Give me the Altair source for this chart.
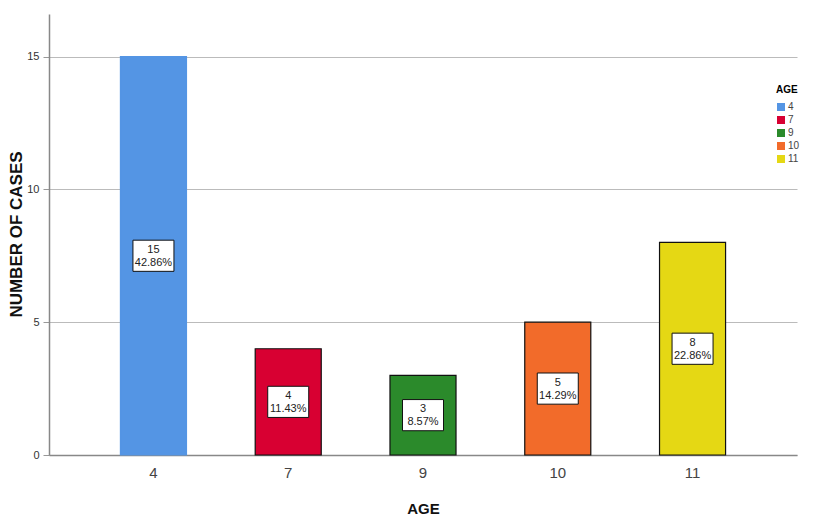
import altair as alt
import pandas as pd

ages = ["4", "7", "9", "10", "11"]
counts = [15, 4, 3, 5, 8]
percents = ["42.86%", "11.43%", "8.57%", "14.29%", "22.86%"]
colors = ["#5495E4", "#D80032", "#2B8A2B", "#F26B2A", "#E5D814"]
strokes = ["#5495E4", "#111111", "#111111", "#111111", "#111111"]

df = pd.DataFrame({
    "AGE": ages,
    "count": counts,
    "pct": percents,
    "stroke": strokes,
})
df["half"] = df["count"] / 2
df["label"] = df["count"].astype(str) + "\n" + df["pct"]

FONT = "Liberation Sans"

x = alt.X("AGE:N", sort=ages,
          scale=alt.Scale(paddingInner=0.51, paddingOuter=0.53),
          axis=alt.Axis(title="AGE", labelAngle=0, labelFontSize=15, labelColor="#444444",
                        labelFont=FONT, ticks=False, labelPadding=10,
                        titleFontSize=15, titleFontWeight="bold", titleFont=FONT,
                        titleColor="#111111", titlePadding=21,
                        domainColor="#888888", domainWidth=1.5))

bars = alt.Chart(df).mark_bar(strokeWidth=1.2).encode(
    x=x,
    y=alt.Y("count:Q", scale=alt.Scale(domain=[0, 16.6], nice=False),
            axis=alt.Axis(title="NUMBER OF CASES", values=[0, 5, 10, 15], labelFontSize=11,
                          labelColor="#333333", labelFont=FONT, tickSize=6,
                          tickColor="#999999", grid=True, gridColor="#BBBBBB",
                          domainColor="#888888", domainWidth=1.5, labelPadding=4,
                          titleFontSize=17, titleFontWeight="bold", titleFont=FONT,
                          titleColor="#111111", titleX=-24, titleY=220)),
    color=alt.Color("AGE:N", sort=ages, scale=alt.Scale(domain=ages, range=colors),
                    legend=alt.Legend(title="AGE", orient="none", legendX=727, legendY=71,
                                      symbolType="square", symbolSize=64, symbolStrokeWidth=0,
                                      labelFontSize=10, titleFontSize=10, titleFont=FONT,
                                      labelFont=FONT, labelColor="#444444",
                                      titleFontWeight="bold", rowPadding=3, labelOffset=2,
                                      titlePadding=7)),
    stroke=alt.Stroke("stroke:N", scale=None),
)

box = alt.Chart(df).mark_point(
    shape="M-1,-0.76L1,-0.76L1,0.76L-1,0.76Z", filled=True, fill="white",
    stroke="#111111", strokeWidth=1, opacity=1, size=1681,
).encode(x=alt.X("AGE:N", sort=ages), y="half:Q")

text = alt.Chart(df).mark_text(
    fontSize=11, font=FONT, color="#222222", lineBreak="\n", lineHeight=13,
    baseline="middle", dy=-6,
).encode(x=alt.X("AGE:N", sort=ages), y="half:Q", text="label:N")

chart = alt.layer(bars, box, text).properties(
    width=748, height=441,
    autosize=alt.AutoSizeParams(type="none"),
    padding={"left": 41, "top": 6, "right": 8, "bottom": 61},
).configure_view(stroke=None)

chart.save("out.html", embed_options={"renderer": "svg", "actions": False})
